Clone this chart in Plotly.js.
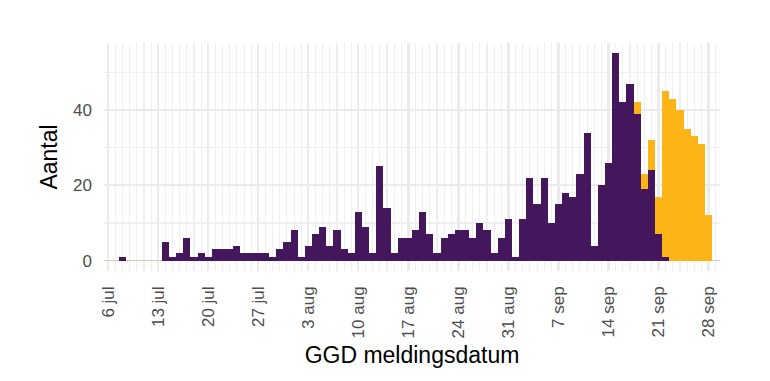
<!DOCTYPE html>
<html>
<head>
<meta charset="utf-8">
<script src="https://cdn.plot.ly/plotly-3.0.1.min.js"></script>
<style>
  html, body { margin: 0; padding: 0; background: #ffffff; }
  #chart { width: 770px; height: 381px; }
</style>
</head>
<body>
<div id="chart"></div>
<script>
// GGD meldingsdatum (dates, one per bar)
const dates = [
  '2020-07-06','2020-07-07','2020-07-08','2020-07-09','2020-07-10','2020-07-11','2020-07-12',
  '2020-07-13','2020-07-14','2020-07-15','2020-07-16','2020-07-17','2020-07-18','2020-07-19',
  '2020-07-20','2020-07-21','2020-07-22','2020-07-23','2020-07-24','2020-07-25','2020-07-26',
  '2020-07-27','2020-07-28','2020-07-29','2020-07-30','2020-07-31','2020-08-01','2020-08-02',
  '2020-08-03','2020-08-04','2020-08-05','2020-08-06','2020-08-07','2020-08-08','2020-08-09',
  '2020-08-10','2020-08-11','2020-08-12','2020-08-13','2020-08-14','2020-08-15','2020-08-16',
  '2020-08-17','2020-08-18','2020-08-19','2020-08-20','2020-08-21','2020-08-22','2020-08-23',
  '2020-08-24','2020-08-25','2020-08-26','2020-08-27','2020-08-28','2020-08-29','2020-08-30',
  '2020-08-31','2020-09-01','2020-09-02','2020-09-03','2020-09-04','2020-09-05','2020-09-06',
  '2020-09-07','2020-09-08','2020-09-09','2020-09-10','2020-09-11','2020-09-12','2020-09-13',
  '2020-09-14','2020-09-15','2020-09-16','2020-09-17','2020-09-18','2020-09-19','2020-09-20',
  '2020-09-21','2020-09-22','2020-09-23','2020-09-24','2020-09-25','2020-09-26','2020-09-27',
  '2020-09-28','2020-09-29'
];

// purple series (lower part of each bar)
const purpleValues = [
  0, 0, 1, 0, 0, 0, 0,
  0, 5, 1, 2, 6, 1, 2,
  1, 3, 3, 3, 4, 2, 2,
  2, 2, 1, 3, 5, 8, 1,
  4, 7, 9, 4, 8, 3, 2,
  13, 9, 2, 25, 14, 2, 6,
  6, 8, 13, 7, 2, 6, 7,
  8, 8, 6, 10, 8, 2, 6,
  11, 1, 11, 22, 15, 22, 10,
  15, 18, 17, 23, 34, 4, 20,
  26, 55, 42, 47, 39, 19, 24,
  7, 1, 0, 0, 0, 0, 0,
  0, 0
];

// orange series (stacked on top)
const orangeValues = [
  0, 0, 0, 0, 0, 0, 0,
  0, 0, 0, 0, 0, 0, 0,
  0, 0, 0, 0, 0, 0, 0,
  0, 0, 0, 0, 0, 0, 0,
  0, 0, 0, 0, 0, 0, 0,
  0, 0, 0, 0, 0, 0, 0,
  0, 0, 0, 0, 0, 0, 0,
  0, 0, 0, 0, 0, 0, 0,
  0, 0, 0, 0, 0, 0, 0,
  0, 0, 0, 0, 0, 0, 0,
  0, 0, 0, 0, 3, 4, 8,
  10, 44, 43, 40, 35, 33, 31,
  12, 0
];

// x tick labels
const xTickDates = ['2020-07-06','2020-07-13','2020-07-20','2020-07-27','2020-08-03','2020-08-10',
  '2020-08-17','2020-08-24','2020-08-31','2020-09-07','2020-09-14','2020-09-21','2020-09-28'];
const xTickLabels = ['6 jul','13 jul','20 jul','27 jul','3 aug','10 aug','17 aug','24 aug',
  '31 aug','7 sep','14 sep','21 sep','28 sep'];

// y tick labels
const yTickValues = [0, 20, 40];
const yTickLabels = ['0', '20', '40'];

const purple = '#44175c';
const orange = '#fcb416';
const fontFamily = '"Liberation Sans", Arial, "DejaVu Sans", sans-serif';

const traces = [
  {
    type: 'bar', x: dates, y: purpleValues, name: 'gemeld',
    marker: { color: purple, line: { width: 0 } },
    hoverinfo: 'skip'
  },
  {
    type: 'bar', x: dates, y: orangeValues, name: 'verwacht',
    marker: { color: orange, line: { width: 0 } },
    hoverinfo: 'skip'
  }
];

const layout = {
  width: 770, height: 381,
  margin: { l: 104, r: 50, t: 43, b: 110, pad: 0 },
  paper_bgcolor: '#ffffff', plot_bgcolor: '#ffffff',
  barmode: 'stack', bargap: 0,
  showlegend: false,
  font: { family: fontFamily, color: '#4d4d4d' },
  xaxis: {
    type: 'date',
    range: ['2020-07-05 09:36', '2020-09-29 14:24'],
    tickmode: 'array', tickvals: xTickDates, ticktext: xTickLabels,
    tickangle: -90,
    tickfont: { family: fontFamily, size: 17, color: '#4d4d4d' },
    ticks: '', ticklabelstandoff: 11,
    showgrid: true, gridcolor: '#ebebeb', gridwidth: 2.2,
    minor: { dtick: 86400000, tick0: '2020-07-06', showgrid: true, gridcolor: '#efefef', gridwidth: 1.1, ticks: '' },
    zeroline: false, showline: false,
    title: { text: 'GGD meldingsdatum', font: { family: fontFamily, size: 23, color: '#000000' }, standoff: 9 },
    automargin: false, fixedrange: true
  },
  yaxis: {
    range: [-2.75, 57.75],
    tickmode: 'array', tickvals: yTickValues, ticktext: yTickLabels,
    tickfont: { family: fontFamily, size: 17, color: '#4d4d4d' },
    ticks: '', ticklabelstandoff: 11,
    showgrid: true, gridcolor: '#ebebeb', gridwidth: 2.2,
    minor: { dtick: 10, tick0: 0, showgrid: true, gridcolor: '#efefef', gridwidth: 1.1, ticks: '' },
    zeroline: true, zerolinecolor: '#dccab8', zerolinewidth: 1,
    showline: false,
    title: { text: 'Aantal', font: { family: fontFamily, size: 23, color: '#000000' }, standoff: 9 },
    automargin: false, fixedrange: true
  }
};

Plotly.newPlot('chart', traces, layout, { displayModeBar: false, staticPlot: true });
</script>
</body>
</html>
